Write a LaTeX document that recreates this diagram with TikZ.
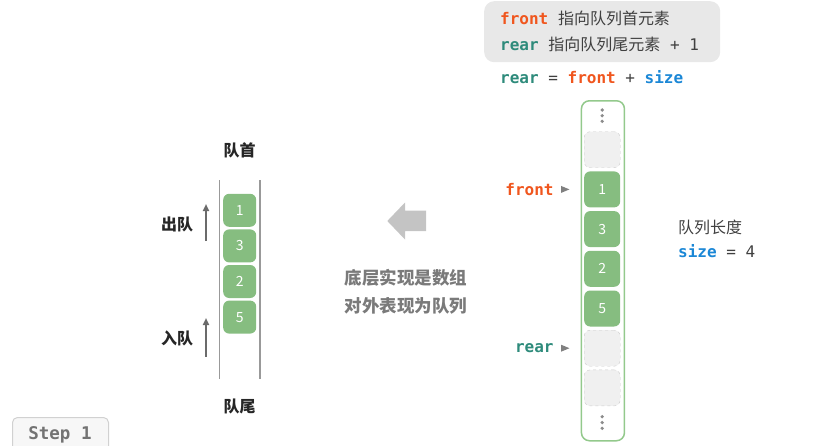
\documentclass[tikz,border=0pt]{standalone}
\usepackage{fontspec}
\setmainfont{Noto Sans CJK SC}
\newfontfamily\codefont{DejaVu Sans Mono}
\usetikzlibrary{positioning,arrows.meta,shapes.geometric}

\definecolor{frontc}{HTML}{F0561E}
\definecolor{rearc}{HTML}{2E8B7B}
\definecolor{sizec}{HTML}{1B87D6}
\definecolor{cellg}{HTML}{86BD80}
\definecolor{lineg}{HTML}{93C98C}
\definecolor{txtc}{HTML}{404040}
\newcommand{\kw}[2]{{\bfseries\color{#1}#2}}

\begin{document}
\begin{tikzpicture}[
    x=1pt, y=-1pt, inner sep=0pt,
    font=\fontsize{16}{19}\selectfont,
    cell/.style={rectangle, rounded corners=6pt, fill=cellg, text=white, font=\fontsize{14}{16}\selectfont, minimum size=36pt},
    slot/.style={rectangle, rounded corners=6pt, fill=black!6, draw=black!20, dashed, minimum size=36pt},
    qcell/.style={cell, minimum size=33pt},
    dot/.style={circle, fill=black!45, minimum size=3.6pt},
    tip/.style={isosceles triangle, fill=black!50, minimum width=7pt, minimum height=7pt},
    updown/.style={-{Triangle[length=7pt,width=6pt]}, line width=1.8pt, draw=black!58},
    sidetxt/.style={text=black!85, font=\fontsize{16}{19}\selectfont\bfseries},
    wall/.style={draw=black!40, line width=1.2pt}
]
    \useasboundingbox (0,0) rectangle (831,445);

    % info box
    \node[rectangle, rounded corners=10pt, fill=black!9, anchor=north west, minimum width=236pt, minimum height=61pt] (info) at (484,1) {};
    \node[anchor=west, text=txtc] (line1) at (500,18) {{\codefont\kw{frontc}{front}\ }指向队列首元素};
    \node[anchor=west, text=txtc] (line2) at (500,44) {{\codefont\kw{rearc}{rear}\ }指向队列尾元素{\codefont\ + 1}};
    \node[anchor=west, text=txtc] (eq) at (500,77) {\codefont\kw{rearc}{rear} = \kw{frontc}{front} + \kw{sizec}{size}};

    % array
    \node[draw=lineg, line width=1.5pt, rounded corners=8pt, anchor=north west, minimum width=43pt, minimum height=340pt] (col) at (580.7,100) {};
    \node[dot] (td1) at (602.2,110) {};
    \node[dot] (td2) at (602.2,115.7) {};
    \node[dot] (td3) at (602.2,121.3) {};
    \node[slot] (s0) at (602.2,149.7) {};
    \node[cell, below=3.3pt of s0] (c1) {1};
    \node[cell, below=3.3pt of c1] (c3) {3};
    \node[cell, below=3.3pt of c3] (c2) {2};
    \node[cell, below=3.3pt of c2] (c5) {5};
    \node[slot, below=3.3pt of c5] (s1) {};
    \node[slot, below=3.3pt of s1] (s2) {};
    \node[dot] (bd1) at (602.2,416.7) {};
    \node[dot] (bd2) at (602.2,422.5) {};
    \node[dot] (bd3) at (602.2,428.3) {};

    \node[tip, left=14pt of c1] (ftip) {};
    \node[left=7pt of ftip] (frontlbl) {\codefont\kw{frontc}{front}};
    \node[tip, left=14pt of s1] (rtip) {};
    \node[left=7pt of rtip] (rearlbl) {\codefont\kw{rearc}{rear}};

    \node[anchor=west, text=txtc] (lenlbl) at (678,227) {队列长度};
    \node[anchor=west, text=txtc] (sizelbl) at (678,251) {\codefont\kw{sizec}{size} = 4};

    % queue
    \draw[wall] (219.3,180) -- (219.3,379);
    \draw[wall] (260,180) -- (260,379);
    \node[qcell] (q1) at (239.7,210.3) {1};
    \node[qcell, below=2.2pt of q1] (q3) {3};
    \node[qcell, below=2.2pt of q3] (q2) {2};
    \node[qcell, below=2.2pt of q2] (q5) {5};
    \node[sidetxt] (head) at (239.5,150.7) {队首};
    \node[sidetxt] (tail) at (239.5,406.7) {队尾};

    \coordinate (outs) at (206,241);
    \coordinate (oute) at (206,204);
    \coordinate (ins) at (206,356.7);
    \coordinate (ine) at (206,318);
    \draw[updown] (outs) -- (oute);
    \draw[updown] (ins) -- (ine);
    \node[sidetxt] (outlbl) at (177,224) {出队};
    \node[sidetxt] (inlbl) at (177,338.3) {入队};

    % middle
    \fill[black!23] (387.3,221) -- (405,202.5) -- (405,210.7) -- (426,210.7) -- (426,231) -- (405,231) -- (405,239.5) -- cycle;
    \node[align=center, text=black!52, font=\fontsize{17.5}{27.7}\selectfont\bfseries] (note) at (406,292) {底层实现是数组\\对外表现为队列};

    % step
    \node[rectangle, rounded corners=5pt, fill=black!3, draw=black!18, line width=1pt, anchor=north west, minimum width=96pt, minimum height=40pt] (step) at (12,417) {};
    \node[text=black!55] (steptxt) at (60,435) {\codefont\bfseries\fontsize{17.5}{20}\selectfont Step 1};
\end{tikzpicture}
\end{document}
